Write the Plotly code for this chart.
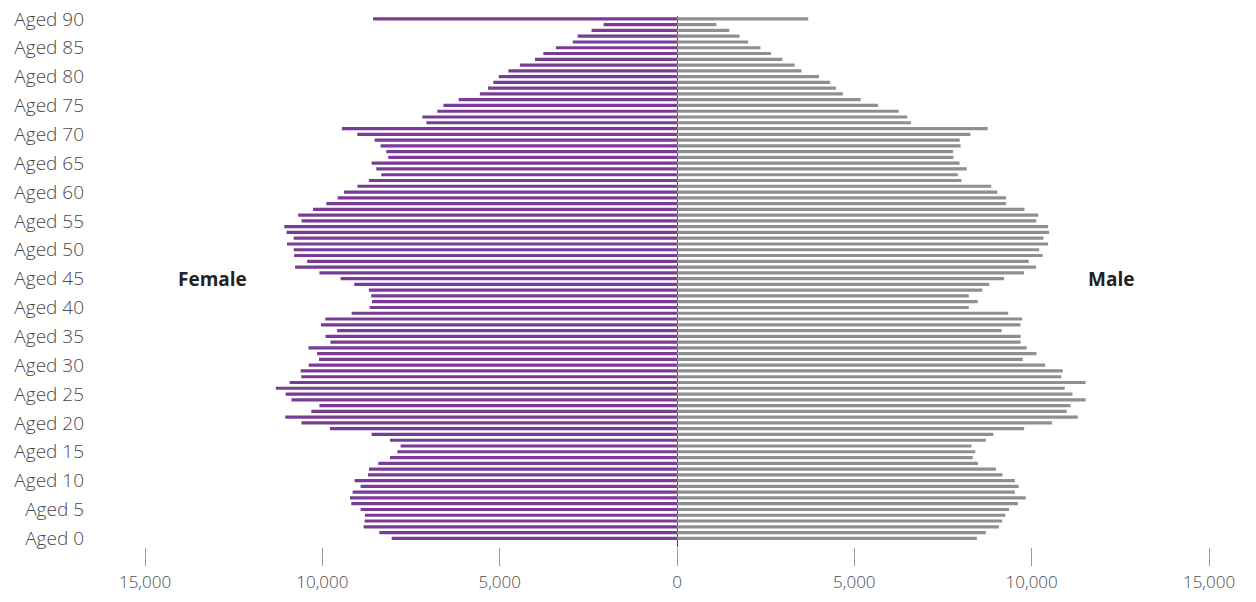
import plotly.graph_objects as go

ages = list(range(0, 91))

female = [
    8046, 8394, 8836, 8808, 8798, 8921, 9184, 9221, 9146, 8921,
    9090, 8714, 8686, 8422, 8093, 7886, 7793, 8093, 8610, 9785,
    10588, 11046, 10310, 10083, 10870, 11034, 11311, 10920, 10595, 10610,
    10385, 10093, 10147, 10393, 9770, 9910, 9582, 10039, 9918, 9175,
    8666, 8600, 8620, 8687, 9100, 9484, 10082, 10769, 10428, 10794,
    10807, 10996, 10807, 11008, 11072, 10588, 10681, 10265, 9888, 9566,
    9391, 9010, 8686, 8338, 8479, 8610, 8141, 8197, 8356, 8526,
    9015, 9450, 7066, 7180, 6759, 6586, 6155, 5558, 5330, 5180,
    5025, 4755, 4430, 4005, 3770, 3413, 2938, 2800, 2409, 2068,
    8570,
]

male = [
    8455, 8708, 9076, 9167, 9258, 9363, 9611, 9833, 9525, 9631,
    9525, 9177, 8990, 8485, 8338, 8410, 8304, 8708, 8920, 9788,
    10570, 11303, 10987, 11096, 11521, 11151, 10933, 11521, 10835, 10878,
    10380, 9747, 10136, 9858, 9687, 9692, 9152, 9682, 9732, 9338,
    8228, 8480, 8228, 8607, 8803, 9222, 9783, 10120, 9918, 10308,
    10212, 10464, 10333, 10490, 10464, 10130, 10186, 9798, 9278, 9278,
    9030, 8859, 8021, 7920, 8168, 7966, 7795, 7784, 7996, 7971,
    8274, 8758, 6598, 6492, 6250, 5665, 5180, 4675, 4484, 4316,
    4004, 3509, 3317, 2970, 2649, 2354, 2006, 1766, 1472, 1112,
    3700,
]

y_tick_vals = list(range(0, 91, 5))
y_tick_text = [f"Aged {a}" for a in y_tick_vals]

x_tick_vals = [-15000, -10000, -5000, 0, 5000, 10000, 15000]
x_tick_text = ["15,000", "10,000", "5,000", "0", "5,000", "10,000", "15,000"]

FONT = "Open Sans"

fig = go.Figure()
fig.add_trace(go.Bar(
    y=ages, x=[-v for v in female], orientation="h", name="Female",
    marker=dict(color="#7a3b94", line=dict(width=0)), width=0.55,
))
fig.add_trace(go.Bar(
    y=ages, x=male, orientation="h", name="Male",
    marker=dict(color="#8f8f8f", line=dict(width=0)), width=0.55,
))

fig.update_layout(
    width=1256, height=602,
    barmode="overlay",
    showlegend=False,
    plot_bgcolor="white", paper_bgcolor="white",
    margin=dict(l=145, r=47, t=16, b=55, autoexpand=False),
    font=dict(family=FONT, size=17, color="#4a4a4a"),
    xaxis=dict(
        range=[-15000, 15000],
        tickvals=x_tick_vals, ticktext=x_tick_text,
        ticks="outside", ticklen=18, tickcolor="#9a9a9a", tickwidth=1,
        showgrid=False, showline=False,
        zeroline=True, zerolinecolor="#4a4a4a", zerolinewidth=1,
        tickfont=dict(family=FONT, size=17, color="#4a4a4a", weight=300),
        ticklabelstandoff=2,
        ticklabeloverflow="allow",
        automargin=False,
    ),
    yaxis=dict(
        range=[-1.5, 90.5],
        tickvals=y_tick_vals, ticktext=y_tick_text,
        showgrid=False, showline=False, zeroline=False, ticks="",
        tickfont=dict(family=FONT, size=19, color="#4a4a4a", weight=300),
        ticklabelstandoff=60,
        ticklabeloverflow="allow",
        automargin=False,
    ),
    annotations=[
        dict(x=-13085, y=45, xref="x", yref="y", text="<b>Female</b>",
             showarrow=False, font=dict(family=FONT, size=19, color="#222222")),
        dict(x=12240, y=45, xref="x", yref="y", text="<b>Male</b>",
             showarrow=False, font=dict(family=FONT, size=19, color="#222222")),
    ],
)

fig.write_html(
    "out.html",
    config={"displayModeBar": False},
    post_script="document.body.style.margin='0';document.body.style.padding='0';",
)
